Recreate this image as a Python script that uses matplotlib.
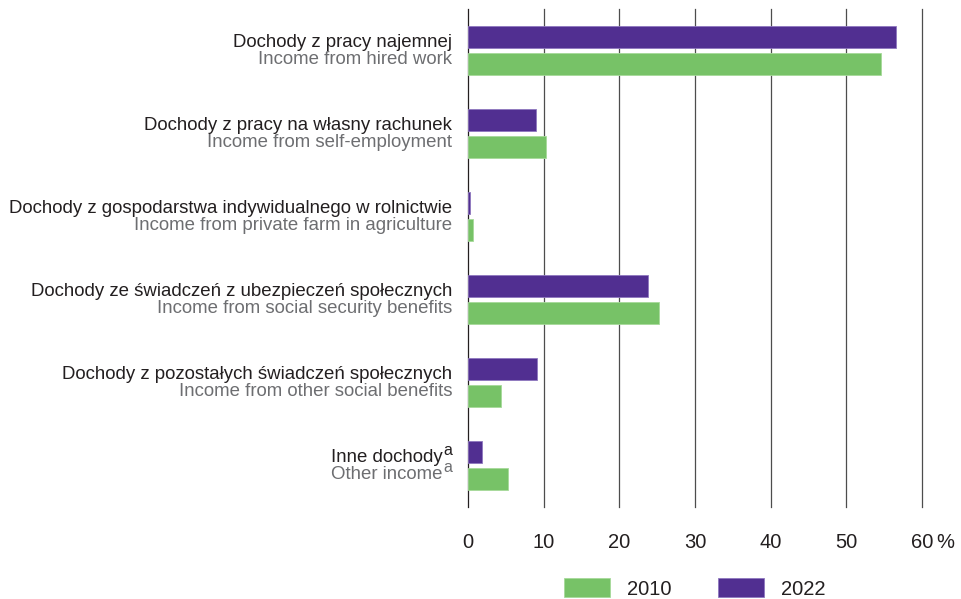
import matplotlib
matplotlib.use("Agg")
import matplotlib.pyplot as plt
from matplotlib.transforms import blended_transform_factory
import numpy as np

plt.rcParams['font.family'] = ['Liberation Sans', 'DejaVu Sans']

labels_pl = [
    "Dochody z pracy najemnej",
    "Dochody z pracy na własny rachunek",
    "Dochody z gospodarstwa indywidualnego w rolnictwie",
    "Dochody ze świadczeń z ubezpieczeń społecznych",
    "Dochody z pozostałych świadczeń społecznych",
    "Inne dochody",
]
labels_en = [
    "Income from hired work",
    "Income from self-employment",
    "Income from private farm in agriculture",
    "Income from social security benefits",
    "Income from other social benefits",
    "Other income",
]
footnotes = ["", "", "", "", "", "a"]
values_2010 = [54.6, 10.3, 0.7, 25.2, 4.3, 5.3]
values_2022 = [56.5, 9.0, 0.2, 23.8, 9.1, 1.8]
xticks = [0, 10, 20, 30, 40, 50, 60]

GREEN = "#77c267"
PURPLE = "#512f91"
GRAY_TXT = "#6d6e71"
DARK = "#231f20"

fig = plt.figure(figsize=(9.61, 5.99), dpi=100)
ax = fig.add_axes([468 / 961, 1 - 507 / 599, (922 - 468) / 961, (507 - 9) / 599])

y = np.arange(len(labels_pl))
h = 0.26
off = 0.16
ax.barh(y - off, values_2022, height=h, color=PURPLE, edgecolor="#8f78bf", linewidth=0.6, label="2022", zorder=3)
ax.barh(y + off, values_2010, height=h, color=GREEN, edgecolor="#a6da9a", linewidth=0.6, label="2010", zorder=3)

ax.set_xlim(0, 60)
ax.set_ylim(len(labels_pl) - 0.5, -0.5)
for s in ax.spines.values():
    s.set_visible(False)
ax.set_yticks([])
ax.set_xticks(xticks)
ax.set_xticklabels([str(t) for t in xticks])
ax.tick_params(axis='x', length=0, pad=19, labelsize=14.5, labelcolor=DARK)
for t in xticks:
    ax.axvline(t, color=DARK if t == 0 else "#4d4d4d", linewidth=0.9, zorder=1, clip_on=False)
ax.annotate("%", xy=(60, 0), xycoords=('data', 'axes fraction'), xytext=(10, -19),
            textcoords='offset points', ha='left', va='top', fontsize=14.5, color=DARK)

trans = blended_transform_factory(ax.transAxes, ax.transData)
for i in range(len(labels_pl)):
    sup = footnotes[i]
    shift = 6.6 if sup else 0.0
    for txt, dy, col in ((labels_pl[i], 2.7, DARK), (labels_en[i], -9.7, GRAY_TXT)):
        ax.annotate(txt, xy=(0, i), xycoords=trans, xytext=(-11.5 - shift, dy),
                    textcoords='offset points', ha='right', va='baseline',
                    fontsize=13.4, color=col, annotation_clip=False)
        if sup:
            ax.annotate(sup, xy=(0, i), xycoords=trans, xytext=(-11.5, dy + 5.0),
                        textcoords='offset points', ha='right', va='baseline',
                        fontsize=11.5, color=col, annotation_clip=False)

handles, lbls = ax.get_legend_handles_labels()
order = [1, 0]
leg = fig.legend([handles[k] for k in order], [lbls[k] for k in order],
                 loc='center', bbox_to_anchor=(694.5 / 961, 1 - 588.5 / 599),
                 ncol=2, frameon=False, fontsize=14.5, handlelength=2.29,
                 handleheight=1.05, handletextpad=0.85, columnspacing=2.3,
                 borderpad=0, borderaxespad=0)
for t in leg.get_texts():
    t.set_color(DARK)

fig.savefig("out.png", dpi=100)
